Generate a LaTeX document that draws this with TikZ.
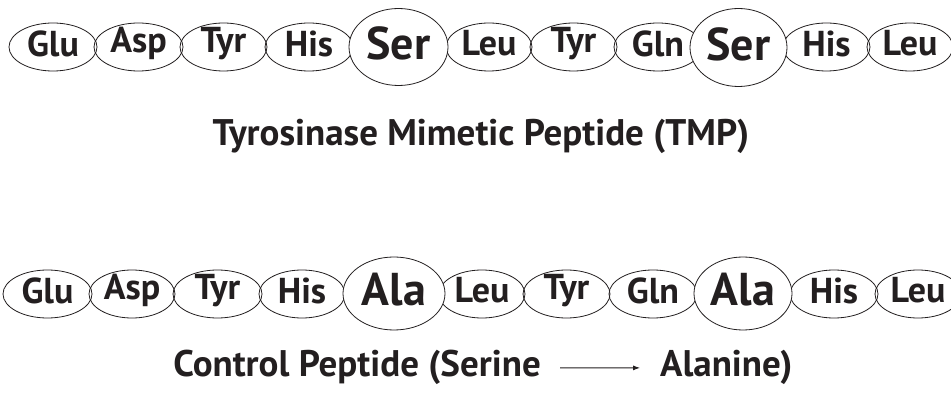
\documentclass[tikz,border=0pt]{standalone}
\usepackage{fontspec}
\setmainfont{PT Sans}
\usetikzlibrary{shapes.geometric,arrows.meta}
\definecolor{ink}{HTML}{231F20}
\newcommand{\rlab}[1]{\raisebox{3.5pt}[\height][\depth]{#1}}
\tikzset{
  res/.style={ellipse, draw=ink, line width=0.8pt, inner sep=0pt,
    minimum height=48pt, font=\bfseries\fontsize{36}{36}\selectfont, text=ink},
  big/.style={ellipse, draw=ink, line width=0.8pt, fill=white, inner sep=0pt,
    font=\bfseries\fontsize{46}{46}\selectfont, text=ink},
  title/.style={inner sep=0pt, font=\bfseries\fontsize{37}{37}\selectfont, text=ink},
}
\begin{document}
\begin{tikzpicture}[x=1pt,y=-1pt]
\useasboundingbox[fill=white] (0,0) rectangle (951,395);
% top row
\node[res, minimum width=88pt] (a1) at (53,47) {\rlab{Glu}};
\node[res, minimum width=89pt] (a2) at (138.5,47) {\rlab{Asp}};
\node[res, minimum width=87pt] (a3) at (223.5,47) {\rlab{Tyr}};
\node[res, minimum width=88pt] (a4) at (309,47) {\rlab{His}};
\node[res, minimum width=86pt] (a6) at (489,47) {\rlab{Leu}};
\node[res, minimum width=87pt] (a7) at (573.5,47) {\rlab{Tyr}};
\node[res, minimum width=88pt] (a8) at (658,47) {\rlab{Gln}};
\node[res, minimum width=87pt] (a10) at (826.5,47) {\rlab{His}};
\node[res, minimum width=86pt] (a11) at (910,47) {\rlab{Leu}};
\node[big, minimum width=99pt, minimum height=77pt] (a5) at (398.5,47) {\rlab{Ser}};
\node[big, minimum width=97pt, minimum height=78pt] (a9) at (738.5,47.5) {\rlab{Ser}};
\node[title, anchor=base] (t1) at (481,146) {Tyrosinase Mimetic Peptide (TMP)};
% bottom row
\node[res, minimum width=89pt] (b1) at (47.5,294) {\rlab{Glu}};
\node[res, minimum width=86pt] (b2) at (132,294) {\rlab{Asp}};
\node[res, minimum width=89pt] (b3) at (217.5,294) {\rlab{Tyr}};
\node[res, minimum width=86pt] (b4) at (302,294) {\rlab{His}};
\node[res, minimum width=86pt] (b6) at (482,294) {\rlab{Leu}};
\node[res, minimum width=87pt] (b7) at (566.5,294) {\rlab{Tyr}};
\node[res, minimum width=88pt] (b8) at (653,294) {\rlab{Gln}};
\node[res, minimum width=88pt] (b10) at (834,294) {\rlab{His}};
\node[res, minimum width=86pt] (b11) at (918,294) {\rlab{Leu}};
\node[big, minimum width=102pt, minimum height=73pt] (b5) at (394,293.5) {\rlab{Ala}};
\node[big, minimum width=98pt, minimum height=73pt] (b9) at (743,293.5) {\rlab{Ala}};
\node[title, anchor=base east] (c1) at (541,377) {Control Peptide (Serine};
\node[title, anchor=base west] (c2) at (660,377) {Alanine)};
\draw[draw=ink, line width=0.8pt, -{Latex[length=7pt,width=5pt]}] ([xshift=19pt]c1.east) -- ([xshift=-20pt]c2.west);
\end{tikzpicture}
\end{document}
